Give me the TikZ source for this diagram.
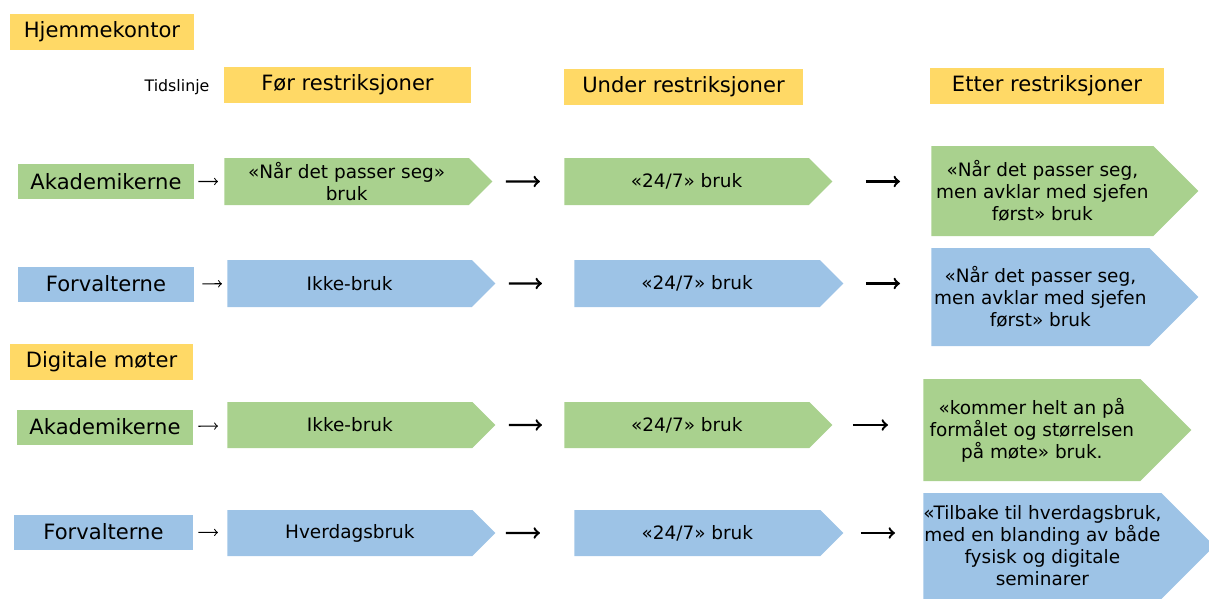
\documentclass[tikz,border=0pt]{standalone}
\usepackage{fontspec}
\setmainfont{DejaVu Sans}
\usetikzlibrary{shapes.symbols}
\definecolor{hdryellow}{HTML}{FFD966}
\definecolor{akgreen}{HTML}{A9D18E}
\definecolor{fvblue}{HTML}{9DC3E6}
\tikzset{
	hdr/.style={fill=hdryellow, inner sep=0pt, minimum height=0.72cm,
		font=\fontsize{12}{14}\selectfont},
	grp/.style={inner sep=0pt, minimum width=3.52cm, minimum height=0.70cm,
		font=\fontsize{12}{14}\selectfont},
	chev/.style={signal, signal to=east, signal pointer angle=90,
		anchor=west, inner sep=0pt, align=center,
		font=\fontsize{10.5}{12.5}\selectfont},
	sarr/.style={-to, line width=0.6pt},
	larr/.style={-to, line width=1.35pt},
}
\begin{document}
\begin{tikzpicture}
	\useasboundingbox (0,0) rectangle (24.18,-11.98);

	\node[hdr, minimum width=3.68cm] (hjem) at (2.04,-0.63) {Hjemmekontor};
	\node[font=\fontsize{9}{11}\selectfont] (tid) at (3.54,-1.74) {Tidslinje};
	\node[hdr, minimum width=4.94cm] (foer) at (6.95,-1.70) {Før restriksjoner};
	\node[hdr, minimum width=4.78cm] (under) at (13.67,-1.74) {Under restriksjoner};
	\node[hdr, minimum width=4.68cm] (etter) at (20.94,-1.72) {Etter restriksjoner};

	% hjemmekontor
	\node[grp, fill=akgreen] (ak1) at (2.12,-3.63) {Akademikerne};
	\node[chev, fill=akgreen, minimum width=5.36cm, minimum height=0.94cm]
		(r1c1) at (4.48,-3.63) {«Når det passer seg»\\ bruk};
	\node[chev, fill=akgreen, minimum width=5.36cm, minimum height=0.94cm]
		(r1c2) at (11.28,-3.63) {«24/7» bruk};
	\node[chev, fill=akgreen, minimum width=5.34cm, minimum height=1.80cm]
		(r1c3) at (18.62,-3.82) {«Når det passer seg,\\ men avklar med sjefen\\ først» bruk};

	\node[grp, fill=fvblue] (fv2) at (2.12,-5.68) {Forvalterne};
	\node[chev, fill=fvblue, minimum width=5.36cm, minimum height=0.94cm]
		(r2c1) at (4.54,-5.67) {Ikke-bruk};
	\node[chev, fill=fvblue, minimum width=5.38cm, minimum height=0.94cm]
		(r2c2) at (11.48,-5.67) {«24/7» bruk};
	\node[chev, fill=fvblue, minimum width=5.34cm, minimum height=1.96cm]
		(r2c3) at (18.62,-5.94) {«Når det passer seg,\\ men avklar med sjefen\\ først» bruk};

	% digitale moeter
	\node[hdr, minimum width=3.66cm] (digi) at (2.03,-7.24) {Digitale møter};

	\node[grp, fill=akgreen] (ak3) at (2.10,-8.54) {Akademikerne};
	\node[chev, fill=akgreen, minimum width=5.36cm, minimum height=0.92cm]
		(r3c1) at (4.54,-8.50) {Ikke-bruk};
	\node[chev, fill=akgreen, minimum width=5.36cm, minimum height=0.92cm]
		(r3c2) at (11.28,-8.50) {«24/7» bruk};
	\node[chev, fill=akgreen, minimum width=5.36cm, minimum height=2.04cm]
		(r3c3) at (18.46,-8.60) {«kommer helt an på\\ formålet og størrelsen\\ på møte» bruk.};

	\node[grp, fill=fvblue, minimum width=3.58cm] (fv4) at (2.07,-10.64) {Forvalterne};
	\node[chev, fill=fvblue, minimum width=5.36cm, minimum height=0.92cm]
		(r4c1) at (4.54,-10.66) {Hverdagsbruk};
	\node[chev, fill=fvblue, minimum width=5.38cm, minimum height=0.92cm]
		(r4c2) at (11.48,-10.66) {«24/7» bruk};
	\node[chev, fill=fvblue, minimum width=5.80cm, minimum height=2.12cm]
		(r4c3) at (18.46,-10.92) {«Tilbake til hverdagsbruk,\\ med en blanding av både\\ fysisk og digitale\\ seminarer};

	\draw[sarr, shorten <=0.08cm, shorten >=0.12cm] (ak1) -- (r1c1);
	\draw[sarr, shorten <=0.16cm, shorten >=0.10cm] (fv2) -- (r2c1);
	\draw[sarr, shorten <=0.10cm, shorten >=0.18cm] (ak3) -- (r3c1);
	\draw[sarr, shorten <=0.10cm, shorten >=0.18cm] (fv4) -- (r4c1);

	\draw[larr, shorten <=0.26cm, shorten >=0.48cm] (r1c1) -- (r1c2);
	\draw[larr, shorten <=0.66cm, shorten >=0.62cm] (r1c2.east) -- (r1c2.east -| r1c3.west);
	\draw[larr, shorten <=0.26cm, shorten >=0.64cm] (r2c1) -- (r2c2);
	\draw[larr, shorten <=0.44cm, shorten >=0.62cm] (r2c2.east) -- (r2c2.east -| r2c3.west);
	\draw[larr, shorten <=0.26cm, shorten >=0.44cm] (r3c1) -- (r3c2);
	\draw[larr, shorten <=0.40cm, shorten >=0.70cm] (r3c2.east) -- (r3c2.east -| r3c3.west);
	\draw[larr, shorten <=0.20cm, shorten >=0.68cm] (r4c1) -- (r4c2);
	\draw[larr, shorten <=0.34cm, shorten >=0.56cm] (r4c2.east) -- (r4c2.east -| r4c3.west);
\end{tikzpicture}
\end{document}
